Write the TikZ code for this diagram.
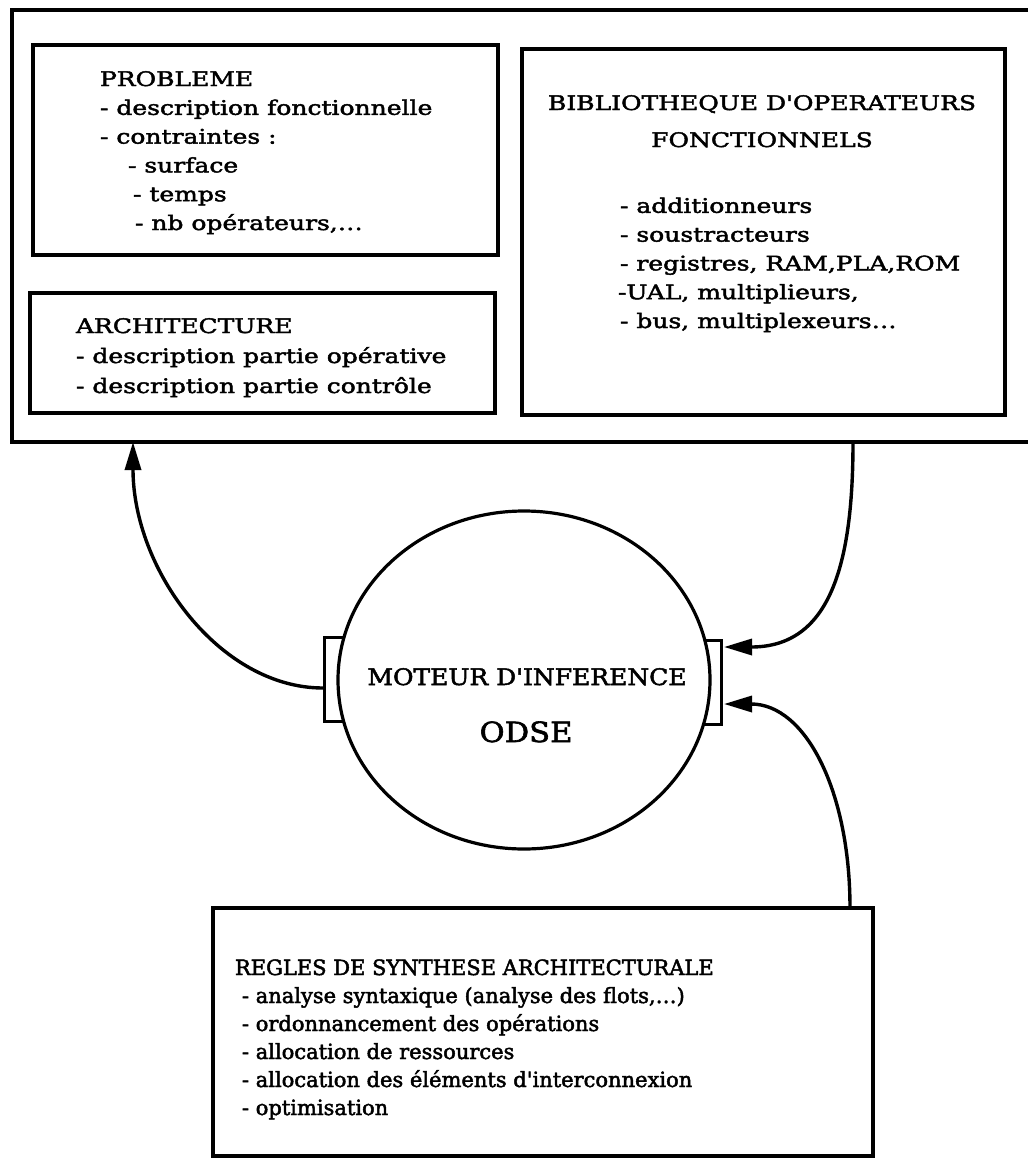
\documentclass[tikz,border=0pt]{standalone}
\usepackage{fontspec}
\setmainfont{DejaVu Serif}[Ligatures=TeXOff,FakeBold=2.2]
\newfontfamily\fwide{DejaVu Serif}[Ligatures=TeXOff,FakeStretch=1.25,FakeBold=2.2]
\newfontfamily\fmid{DejaVu Serif}[Ligatures=TeXOff,FakeStretch=1.1,FakeBold=2.2]
\usetikzlibrary{arrows.meta,shapes.geometric}
\begin{document}
\begin{tikzpicture}[x=1pt,y=-1pt,
  frame/.style={draw,line width=3.2pt},
  boxst/.style={draw,line width=3.2pt,rectangle,inner sep=0pt,outer sep=0pt},
  port/.style={draw,line width=2.6pt,rectangle,fill=white,inner sep=0pt},
  conn/.style={line width=3.4pt,-{Triangle[length=28pt,width=16pt]}},
  txt/.style={inner sep=0pt,outer sep=0pt,anchor=base west,align=left}]
\useasboundingbox (0,0) rectangle (1028,1159);
\fill[white] (0,0) rectangle (1028,1159);

% outer frame (open on the right side)
\draw[frame] (1028,10) -- (12,10) -- (12,442) -- (1028,442);

% inner boxes
\node[boxst,anchor=north west,minimum width=465pt,minimum height=210pt] (prob) at (33,45) {};
\node[boxst,anchor=north west,minimum width=465pt,minimum height=120pt] (arch) at (30,293) {};
\node[boxst,anchor=north west,minimum width=483pt,minimum height=366pt] (biblio) at (522,49) {};
\node[boxst,anchor=north west,minimum width=660pt,minimum height=248pt] (regles) at (213,908) {};

% box texts (each node is anchored on the baseline of its last line)
\node[txt,font=\fwide\fontsize{20}{28.8}\selectfont] (probtxt) at (100,230)
  {PROBLEME\\- description fonctionnelle\\- contraintes :\\
   \hspace*{28pt}- surface\\\hspace*{33pt}- temps\\\hspace*{35pt}- nb opérateurs,…};
\node[txt,font=\fwide\fontsize{20}{30}\selectfont] (archtxt) at (76,393)
  {ARCHITECTURE\\- description partie opérative\\- description partie contrôle};
\node[inner sep=0pt,anchor=base,align=center,font=\fwide\fontsize{20}{37}\selectfont] (bibhead) at (762,147)
  {BIBLIOTHEQUE D'OPERATEURS\\FONCTIONNELS};
\node[txt,font=\fwide\fontsize{20}{28.8}\selectfont] (bibtxt) at (620,328)
  {- additionneurs\\- soustracteurs\\- registres, RAM,PLA,ROM\\\hspace*{-2pt}-UAL, multiplieurs,\\- bus, multiplexeurs…};
\node[txt,font=\fontsize{21}{28}\selectfont] (reghead) at (235,975)
  {REGLES DE SYNTHESE ARCHITECTURALE};
\node[txt,font=\fontsize{21}{28}\selectfont] (regtxt) at (242,1115)
  {- analyse syntaxique (analyse des flots,…)\\- ordonnancement des opérations\\- allocation de ressources\\- allocation des éléments d'interconnexion\\- optimisation};

% inference engine with its two ports
\node[port,anchor=north west,minimum width=27pt,minimum height=84pt] (lport) at (323,636) {};
\node[port,anchor=north east,minimum width=25pt,minimum height=84pt] (rport) at (723,639) {};
\node[draw,ellipse,fill=white,line width=3.2pt,inner sep=0pt,minimum width=372pt,minimum height=338pt] (engine) at (524,680) {};
\node[inner sep=0pt,anchor=base,font=\fmid\fontsize{22.7}{28}\selectfont] (moteur) at (527,685) {MOTEUR D'INFERENCE};
\node[inner sep=0pt,anchor=base,font=\fmid\fontsize{27.8}{30}\selectfont] (odse) at (526,742) {ODSE};

% connector end points
\coordinate (lout) at (323,688);
\coordinate (archin) at (133,442);
\coordinate (bibout) at (853,442);
\coordinate (rin1) at (724,647);
\coordinate (regout) at (850,908);
\coordinate (rin2) at (724,704);

% connectors
\draw[conn] (lout) .. controls (220,688) and (133,570) .. (archin);
\draw[conn] (bibout) .. controls (853,565) and (830,647) .. (rin1);
\draw[conn] (regout) .. controls (850,790) and (805,704) .. (rin2);
\end{tikzpicture}
\end{document}
